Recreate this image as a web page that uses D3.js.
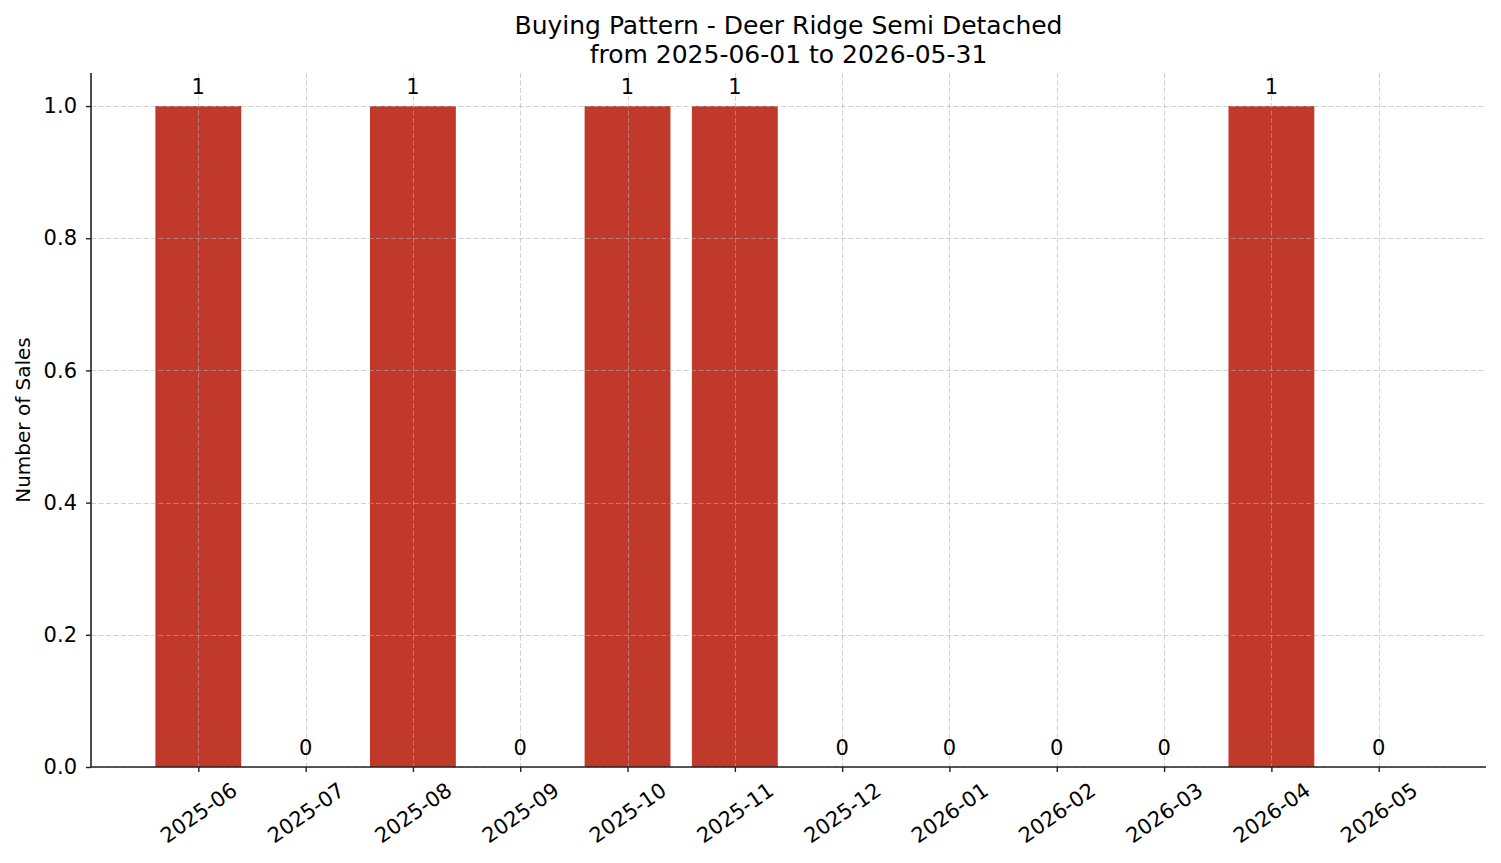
<!DOCTYPE html>
<html>
<head>
<meta charset="utf-8">
<script src="https://cdn.jsdelivr.net/npm/d3@7"></script>
<style>
  body { margin: 0; background: #fff; }
  svg text { font-family: "DejaVu Sans", sans-serif; fill: #000; }
</style>
</head>
<body>
<svg id="chart" width="1501" height="863"></svg>
<script>
var months = ["2025-06", "2025-07", "2025-08", "2025-09", "2025-10", "2025-11",
              "2025-12", "2026-01", "2026-02", "2026-03", "2026-04", "2026-05"];
var sales = [1, 0, 1, 0, 1, 1, 0, 0, 0, 0, 1, 0];
var yTicks = [0, 0.2, 0.4, 0.6, 0.8, 1.0];
var titleLines = ["Buying Pattern - Deer Ridge Semi Detached", "from 2025-06-01 to 2026-05-31"];

var svg = d3.select("#chart"),
    margin = { top: 73, right: 15, bottom: 96, left: 91 },
    width = +svg.attr("width") - margin.left - margin.right,
    height = +svg.attr("height") - margin.top - margin.bottom;

var x = d3.scaleLinear().domain([-1, months.length]).range([0, width]),
    y = d3.scaleLinear().domain([0, 1.05]).range([height, 0]);
var barW = x(0.8) - x(0);

var g = svg.append("g")
    .attr("transform", "translate(" + margin.left + "," + margin.top + ")");

// bars
g.selectAll(".bar")
    .data(sales)
    .enter().append("rect")
    .attr("class", "bar")
    .attr("x", function (d, i) { return x(i) - barW / 2; })
    .attr("y", function (d) { return y(d); })
    .attr("width", barW)
    .attr("height", function (d) { return height - y(d); })
    .attr("fill", "#c0392b");

// grid drawn over the bars
g.selectAll(".hgrid")
    .data(yTicks)
    .enter().append("line")
    .attr("x1", 0).attr("x2", width)
    .attr("y1", function (d) { return Math.round(y(d)) + 0.5; })
    .attr("y2", function (d) { return Math.round(y(d)) + 0.5; })
    .attr("stroke", "#b0b0b0").attr("stroke-opacity", 0.65)
    .attr("stroke-dasharray", "5,2.5").attr("stroke-width", 0.9);

g.selectAll(".vgrid")
    .data(months)
    .enter().append("line")
    .attr("y1", 0).attr("y2", height)
    .attr("x1", function (d, i) { return Math.round(x(i)) + 0.5; })
    .attr("x2", function (d, i) { return Math.round(x(i)) + 0.5; })
    .attr("stroke", "#b0b0b0").attr("stroke-opacity", 0.65)
    .attr("stroke-dasharray", "5,2.5").attr("stroke-width", 0.9);

// y axis
var yAxis = g.append("g")
    .call(d3.axisLeft(y).tickValues(yTicks).tickFormat(d3.format(".1f")).tickSize(5).tickPadding(9));
yAxis.select(".domain").attr("stroke", "#222").attr("stroke-width", 1.6).attr("d", "M0," + height + "V0");
yAxis.selectAll(".tick line").attr("stroke", "#222").attr("stroke-width", 1.4);
yAxis.selectAll(".tick text").attr("font-size", 21).attr("font-family", "DejaVu Sans");

// x axis
var xAxis = g.append("g")
    .attr("transform", "translate(0," + height + ")")
    .call(d3.axisBottom(x).tickValues(d3.range(months.length)).tickFormat(function (i) { return months[i]; }).tickSize(5));
xAxis.select(".domain").attr("stroke", "#222").attr("stroke-width", 1.6).attr("d", "M0,0H" + width);
xAxis.selectAll(".tick line").attr("stroke", "#222").attr("stroke-width", 1.4);
xAxis.selectAll(".tick text")
    .attr("font-size", 21)
    .attr("font-family", "DejaVu Sans")
    .attr("text-anchor", "middle")
    .attr("dy", null)
    .attr("y", null)
    .attr("dominant-baseline", "central")
    .each(function () {
        var w = this.getComputedTextLength();
        var h = 24;
        var a = 35 * Math.PI / 180;
        var bh = w * Math.sin(a) + h * Math.cos(a);
        d3.select(this).attr("transform", "translate(0," + (11 + bh / 2) + ") rotate(-35)");
    });

// value labels
g.selectAll(".val")
    .data(sales)
    .enter().append("text")
    .attr("x", function (d, i) { return x(i); })
    .attr("y", function (d) { return y(d) - 12; })
    .attr("text-anchor", "middle")
    .attr("font-size", 21)
    .text(function (d) { return d; });

// y label
svg.append("text")
    .attr("transform", "translate(30," + (margin.top + height / 2) + ") rotate(-90)")
    .attr("text-anchor", "middle")
    .attr("font-size", 20)
    .text("Number of Sales");

// title
svg.selectAll(".title")
    .data(titleLines)
    .enter().append("text")
    .attr("x", margin.left + width / 2)
    .attr("y", function (d, i) { return 34 + i * 29; })
    .attr("text-anchor", "middle")
    .attr("font-size", 25)
    .text(function (d) { return d; });
</script>
</body>
</html>
